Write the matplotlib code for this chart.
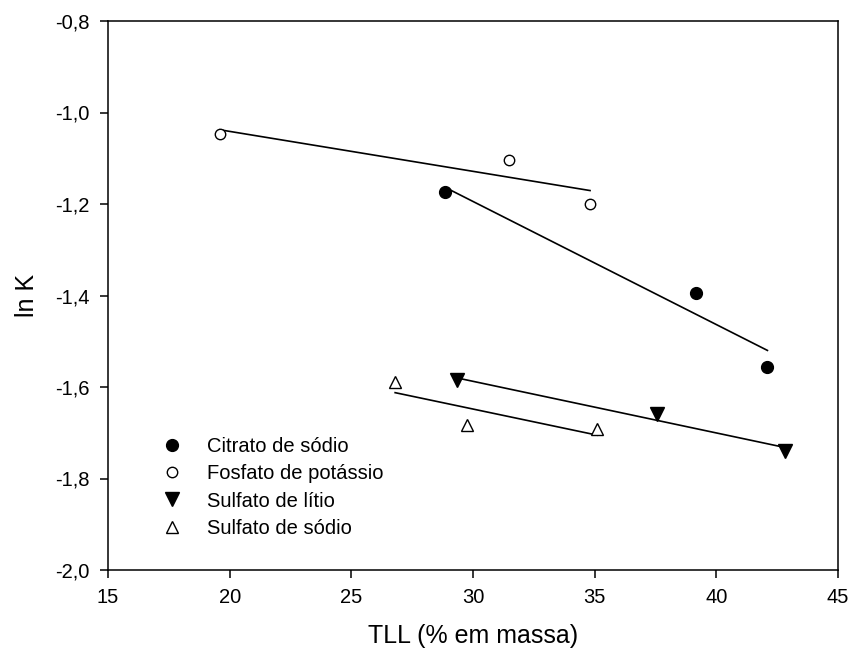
import numpy as np
import matplotlib.pyplot as plt

plt.rcParams['font.family'] = ['Liberation Sans', 'DejaVu Sans']

# TLL (% em massa) e ln K para cada sal
citrato_x = [28.86, 39.17, 42.10]
citrato_y = [-1.174, -1.395, -1.556]

fosfato_x = [19.60, 31.49, 34.81]
fosfato_y = [-1.046, -1.104, -1.200]

litio_x = [29.33, 37.55, 42.82]
litio_y = [-1.585, -1.660, -1.740]

sodio_x = [26.80, 29.74, 35.11]
sodio_y = [-1.588, -1.683, -1.692]

y_ticks = [-2.0, -1.8, -1.6, -1.4, -1.2, -1.0, -0.8]
y_labels = ['-2,0', '-1,8', '-1,6', '-1,4', '-1,2', '-1,0', '-0,8']
x_ticks = [15, 20, 25, 30, 35, 40, 45]

series = [
    (citrato_x, citrato_y, 'o', 'black', 'Citrato de sódio', 8.5),
    (fosfato_x, fosfato_y, 'o', 'white', 'Fosfato de potássio', 7.5),
    (litio_x, litio_y, 'v', 'black', 'Sulfato de lítio', 9.5),
    (sodio_x, sodio_y, '^', 'white', 'Sulfato de sódio', 9),
]

fig = plt.figure(figsize=(8.53, 6.59), dpi=100)
ax = fig.add_axes([108 / 853, 1 - 570 / 659, 730 / 853, 549 / 659])

for xs, ys, mk, fc, nome, ms in series:
    # reta de regressao linear sobre a faixa dos dados
    a, b = np.polyfit(xs, ys, 1)
    xr = np.array([min(xs), max(xs)])
    ax.plot(xr, a * xr + b, color='black', lw=1.2, zorder=2)
    ax.plot(xs, ys, linestyle='none', marker=mk, markersize=ms,
            markerfacecolor=fc, markeredgecolor='black', markeredgewidth=1.0,
            label=nome, zorder=3)

ax.set_xlim(15, 45)
ax.set_ylim(-2.0, -0.8)
ax.set_xticks(x_ticks)
ax.set_yticks(y_ticks)
ax.set_yticklabels(y_labels)
ax.tick_params(direction='out', length=6, width=1.1, labelsize=14.5, pad=7)
for s in ax.spines.values():
    s.set_linewidth(1.1)

ax.set_xlabel('TLL (% em massa)', fontsize=18, labelpad=12)
ax.set_ylabel('ln K', fontsize=18, labelpad=12)

ax.legend(loc='upper left', bbox_to_anchor=(0.074, 0.243), frameon=False,
          fontsize=14.5, handlelength=1.0, handletextpad=1.25,
          labelspacing=0.42, borderpad=0, borderaxespad=0)

fig.savefig('out.png', dpi=100)
